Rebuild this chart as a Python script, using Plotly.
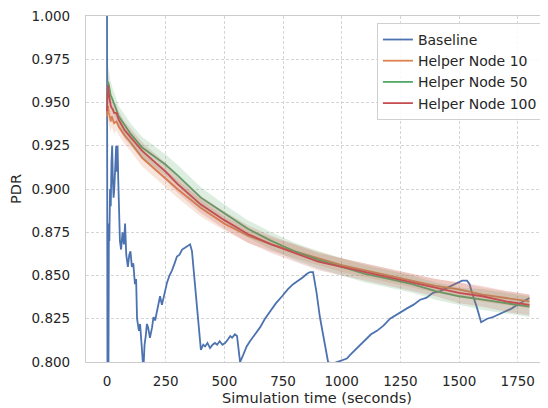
import plotly.graph_objects as go

# ---------------- data ----------------
base_t = [0, 1, 2, 4, 6, 8, 10, 13, 16, 19, 22, 25, 28, 31, 35, 39, 42, 45, 48, 51,
          55, 60, 66, 72, 77, 82, 89, 95, 100, 106, 112, 119, 124, 128, 132, 136, 141,
          146, 150, 155, 160, 165, 170, 175, 183, 192, 198, 205, 215, 226, 234, 245,
          256, 266, 277, 288, 298, 309, 320, 332, 343, 354, 362, 375, 388, 400, 410,
          418, 428, 439, 450, 460, 469, 480, 492, 503, 515, 525, 533, 545, 554, 562,
          567, 580, 595, 609, 630, 652, 673, 694, 720, 746, 770, 793, 815, 835, 852,
          865, 878, 893, 907, 925, 942, 960, 980, 1000, 1022, 1035, 1057, 1078, 1100,
          1125, 1150, 1178, 1206, 1240, 1278, 1305, 1334, 1360, 1389, 1420, 1449, 1480,
          1513, 1534, 1545, 1555, 1575, 1594, 1620, 1645, 1675, 1704, 1725, 1747, 1775,
          1800]
base_y = [1.000, 0.830, 0.780, 0.850, 0.780, 0.880, 0.870, 0.900, 0.890, 0.915, 0.925,
          0.905, 0.895, 0.900, 0.920, 0.925, 0.910, 0.925, 0.905, 0.890,
          0.870, 0.865, 0.875, 0.868, 0.880, 0.862, 0.855, 0.862, 0.864, 0.855, 0.857,
          0.845, 0.848, 0.825, 0.822, 0.818, 0.822, 0.815, 0.805, 0.795, 0.810, 0.815,
          0.822, 0.820, 0.814, 0.820, 0.826, 0.824, 0.830, 0.838, 0.833, 0.840,
          0.846, 0.850, 0.853, 0.857, 0.861, 0.862, 0.865, 0.866, 0.867, 0.868, 0.864,
          0.845, 0.825, 0.807, 0.810, 0.809, 0.811, 0.808, 0.810, 0.811, 0.810, 0.812,
          0.810, 0.811, 0.813, 0.815, 0.814, 0.816, 0.815, 0.805,
          0.800, 0.804, 0.809, 0.812, 0.816, 0.820, 0.825, 0.829, 0.834, 0.838, 0.842,
          0.845, 0.847, 0.849, 0.851, 0.852, 0.852, 0.840, 0.826, 0.812, 0.800, 0.799,
          0.800, 0.801, 0.802, 0.804, 0.807, 0.810, 0.813, 0.816, 0.818, 0.821, 0.825,
          0.828, 0.831, 0.833, 0.836, 0.837, 0.840, 0.841, 0.843, 0.845, 0.847, 0.847,
          0.845, 0.840, 0.832, 0.823, 0.825, 0.826, 0.828, 0.830, 0.831, 0.833, 0.835,
          0.837]

help_t = [0, 4, 8, 12, 16, 20, 25, 30, 40, 50, 75, 100, 150, 200, 250, 300, 400, 500,
          600, 700, 800, 900, 1000, 1100, 1200, 1300, 1400, 1500, 1600, 1700, 1800]

hn10_y = [0.942, 0.948, 0.944, 0.941, 0.939, 0.942, 0.940, 0.938, 0.939, 0.936, 0.931,
          0.927, 0.918, 0.912, 0.906, 0.900, 0.889, 0.880, 0.873, 0.868, 0.864, 0.860,
          0.856, 0.853, 0.850, 0.847, 0.844, 0.842, 0.839, 0.837, 0.835]
hn10_ci = [0.008, 0.008, 0.007, 0.007, 0.006, 0.006, 0.006, 0.006, 0.005, 0.005, 0.005,
           0.005, 0.005, 0.005, 0.005, 0.005, 0.005, 0.004, 0.004, 0.004, 0.004, 0.004,
           0.004, 0.004, 0.004, 0.004, 0.004, 0.004, 0.004, 0.004, 0.004]

hn50_y = [0.950, 0.962, 0.960, 0.956, 0.954, 0.953, 0.951, 0.950, 0.946, 0.942, 0.937,
          0.932, 0.924, 0.919, 0.914, 0.908, 0.895, 0.886, 0.877, 0.870, 0.864, 0.859,
          0.855, 0.851, 0.848, 0.845, 0.841, 0.838, 0.836, 0.834, 0.832]
hn50_ci = [0.010, 0.010, 0.009, 0.008, 0.008, 0.007, 0.007, 0.007, 0.006, 0.006, 0.006,
           0.006, 0.006, 0.006, 0.006, 0.006, 0.006, 0.005, 0.005, 0.005, 0.005, 0.005,
           0.005, 0.005, 0.005, 0.005, 0.005, 0.005, 0.006, 0.006, 0.006]

hn100_y = [0.945, 0.960, 0.955, 0.950, 0.948, 0.947, 0.946, 0.944, 0.944, 0.940, 0.934,
           0.930, 0.922, 0.916, 0.910, 0.903, 0.891, 0.882, 0.874, 0.868, 0.863, 0.858,
           0.855, 0.852, 0.849, 0.846, 0.843, 0.840, 0.838, 0.835, 0.833]
hn100_ci = [0.009, 0.009, 0.008, 0.007, 0.007, 0.006, 0.006, 0.006, 0.005, 0.005, 0.005,
            0.005, 0.005, 0.005, 0.005, 0.005, 0.005, 0.005, 0.005, 0.005, 0.005, 0.005,
            0.005, 0.005, 0.005, 0.005, 0.005, 0.006, 0.006, 0.006, 0.006]

y_ticks = [0.800, 0.825, 0.850, 0.875, 0.900, 0.925, 0.950, 0.975, 1.000]
x_ticks = [0, 250, 500, 750, 1000, 1250, 1500, 1750]

# ---------------- figure ----------------
FONT = "DejaVu Sans"
fig = go.Figure()

fig.add_trace(go.Scatter(x=base_t, y=base_y, mode="lines", name="Baseline",
                         line=dict(color="#4C72B0", width=1.8)))

helpers = [("Helper Node 10", hn10_y, hn10_ci, "#DD8452", "rgba(221,132,82,0.2)"),
           ("Helper Node 50", hn50_y, hn50_ci, "#55A868", "rgba(85,168,104,0.2)"),
           ("Helper Node 100", hn100_y, hn100_ci, "#C44E52", "rgba(196,78,82,0.2)")]

for name, ys, ci, col, fillcol in helpers:
    upper = [m + c for m, c in zip(ys, ci)]
    lower = [m - c for m, c in zip(ys, ci)]
    fig.add_trace(go.Scatter(x=help_t, y=upper, mode="lines", line=dict(width=0),
                             showlegend=False, hoverinfo="skip"))
    fig.add_trace(go.Scatter(x=help_t, y=lower, mode="lines", line=dict(width=0),
                             fill="tonexty", fillcolor=fillcol,
                             showlegend=False, hoverinfo="skip"))
    fig.add_trace(go.Scatter(x=help_t, y=ys, mode="lines", name=name,
                             line=dict(color=col, width=1.8)))

# page body has an 8px margin, so the figure is 540x400 and offset by 8px
fig.update_layout(
    width=540, height=400,
    margin=dict(l=78, r=0, t=8, b=46),
    paper_bgcolor="white", plot_bgcolor="white",
    font=dict(family=FONT, size=13, color="#262626"),
    showlegend=True,
    legend=dict(x=0.989, y=0.98, xanchor="right", yanchor="top",
                traceorder="normal",
                bgcolor="rgba(255,255,255,0.85)", bordercolor="#d0d0d0", borderwidth=1,
                font=dict(family=FONT, size=14, color="#262626"),
                itemwidth=30, tracegroupgap=2),
)

fig.update_xaxes(range=[-89.5, 1879], tickvals=x_ticks,
                 ticktext=[str(v) for v in x_ticks],
                 showgrid=True, gridcolor="#d5d5d5", griddash="3px,2px", gridwidth=0.8,
                 showline=True, linecolor="#cccccc", linewidth=1.2, mirror=True,
                 zeroline=False, ticks="", ticklabelstandoff=7,
                 ticklabeloverflow="allow",
                 title=dict(text="Simulation time (seconds)", standoff=4,
                            font=dict(family=FONT, size=14.5, color="#262626")),
                 tickfont=dict(size=13.5))
fig.update_yaxes(range=[0.8, 1.0], tickvals=y_ticks,
                 ticktext=[f"{v:.3f}" for v in y_ticks],
                 showgrid=True, gridcolor="#d5d5d5", griddash="3px,2px", gridwidth=0.8,
                 showline=True, linecolor="#cccccc", linewidth=1.2, mirror=False,
                 zeroline=False, ticks="", ticklabelstandoff=12,
                 ticklabeloverflow="allow",
                 title=dict(text="PDR", standoff=8,
                            font=dict(family=FONT, size=14.5, color="#262626")),
                 tickfont=dict(size=13.5))

fig.write_html("out.html")
